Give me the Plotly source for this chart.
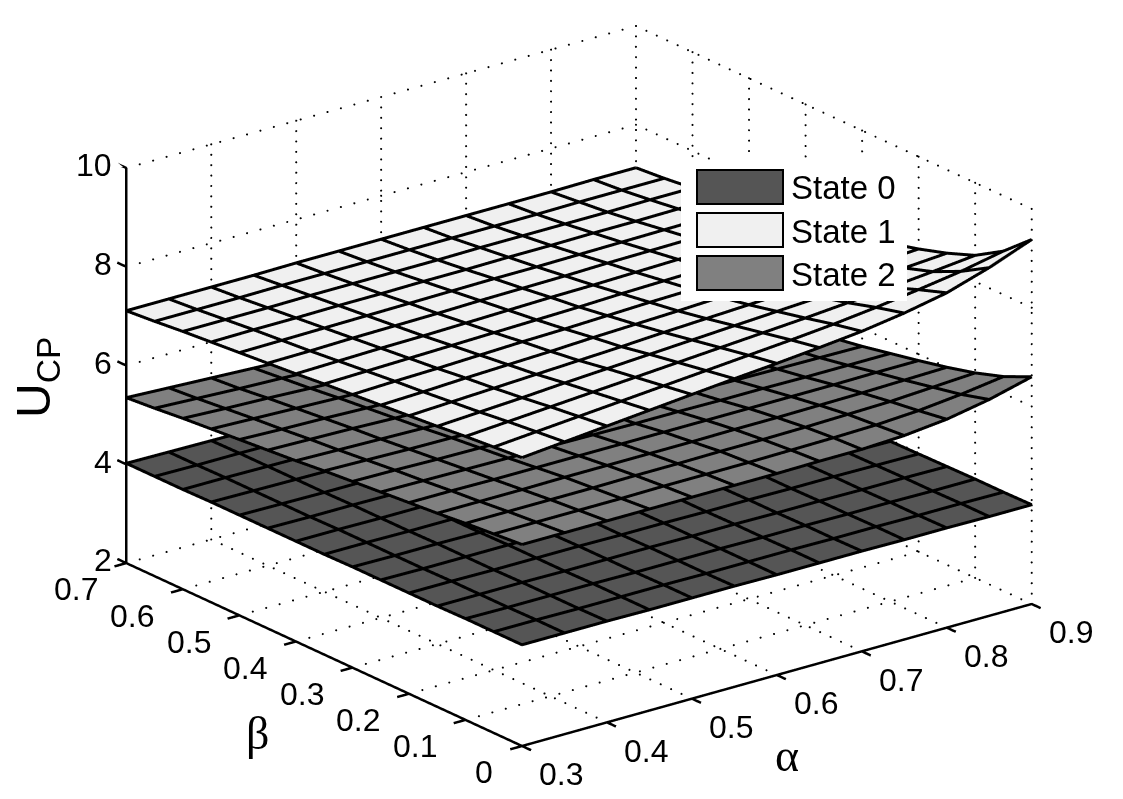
import plotly.graph_objects as go

alpha = [0.30, 0.35, 0.40, 0.45, 0.50, 0.55, 0.60, 0.65, 0.70, 0.75, 0.80, 0.85, 0.90]
beta = [0.00, 0.05, 0.10, 0.15, 0.20, 0.25, 0.30, 0.35, 0.40, 0.45, 0.50, 0.55, 0.60, 0.65, 0.70]

# rows follow beta, columns follow alpha
state_0 = [
    [4.02, 4.02, 4.02, 4.01, 4.01, 4.01, 4.00, 4.00, 4.00, 3.99, 3.99, 3.98, 3.98],
    [4.02, 4.02, 4.01, 4.01, 4.01, 4.00, 4.00, 4.00, 3.99, 3.99, 3.98, 3.98, 3.97],
    [4.02, 4.01, 4.01, 4.01, 4.00, 4.00, 4.00, 3.99, 3.99, 3.98, 3.98, 3.97, 3.97],
    [4.01, 4.01, 4.01, 4.00, 4.00, 4.00, 3.99, 3.99, 3.98, 3.98, 3.97, 3.97, 3.96],
    [4.01, 4.01, 4.00, 4.00, 4.00, 3.99, 3.99, 3.98, 3.98, 3.97, 3.97, 3.96, 3.95],
    [4.01, 4.00, 4.00, 4.00, 3.99, 3.99, 3.98, 3.98, 3.97, 3.97, 3.96, 3.95, 3.94],
    [4.01, 4.00, 4.00, 3.99, 3.99, 3.98, 3.98, 3.97, 3.97, 3.96, 3.95, 3.95, 3.94],
    [4.00, 4.00, 3.99, 3.99, 3.98, 3.98, 3.97, 3.97, 3.96, 3.95, 3.95, 3.94, 3.93],
    [4.00, 4.00, 3.99, 3.99, 3.98, 3.97, 3.97, 3.96, 3.95, 3.95, 3.94, 3.93, 3.92],
    [4.00, 3.99, 3.99, 3.98, 3.98, 3.97, 3.96, 3.95, 3.95, 3.94, 3.93, 3.92, 3.91],
    [4.00, 3.99, 3.98, 3.98, 3.97, 3.96, 3.96, 3.95, 3.94, 3.93, 3.92, 3.91, 3.90],
    [4.00, 3.99, 3.98, 3.97, 3.97, 3.96, 3.95, 3.94, 3.93, 3.92, 3.91, 3.90, 3.89],
    [3.99, 3.99, 3.98, 3.97, 3.96, 3.95, 3.95, 3.94, 3.93, 3.92, 3.91, 3.89, 3.88],
    [3.99, 3.98, 3.98, 3.97, 3.96, 3.95, 3.94, 3.93, 3.92, 3.91, 3.90, 3.88, 3.87],
    [3.99, 3.98, 3.97, 3.96, 3.95, 3.94, 3.93, 3.92, 3.91, 3.90, 3.89, 3.87, 3.86],
]
state_1 = [
    [7.81, 7.89, 7.97, 8.05, 8.13, 8.21, 8.28, 8.36, 8.45, 8.58, 8.75, 9.02, 9.35],
    [7.76, 7.83, 7.90, 7.97, 8.04, 8.11, 8.18, 8.25, 8.33, 8.43, 8.55, 8.68, 8.85],
    [7.71, 7.77, 7.83, 7.89, 7.95, 8.01, 8.07, 8.13, 8.19, 8.26, 8.33, 8.41, 8.50],
    [7.65, 7.70, 7.75, 7.81, 7.86, 7.91, 7.96, 8.01, 8.06, 8.11, 8.17, 8.22, 8.28],
    [7.60, 7.64, 7.68, 7.72, 7.76, 7.80, 7.85, 7.89, 7.93, 7.97, 8.01, 8.05, 8.10],
    [7.55, 7.58, 7.62, 7.65, 7.68, 7.72, 7.75, 7.78, 7.82, 7.85, 7.88, 7.92, 7.95],
    [7.50, 7.53, 7.55, 7.58, 7.61, 7.63, 7.66, 7.69, 7.71, 7.74, 7.77, 7.79, 7.82],
    [7.45, 7.47, 7.49, 7.51, 7.53, 7.55, 7.57, 7.60, 7.62, 7.64, 7.66, 7.68, 7.70],
    [7.39, 7.41, 7.43, 7.44, 7.46, 7.48, 7.50, 7.51, 7.53, 7.55, 7.56, 7.58, 7.60],
    [7.34, 7.35, 7.37, 7.38, 7.39, 7.41, 7.42, 7.43, 7.45, 7.46, 7.47, 7.49, 7.50],
    [7.29, 7.30, 7.31, 7.32, 7.33, 7.34, 7.35, 7.35, 7.36, 7.37, 7.38, 7.39, 7.40],
    [7.24, 7.25, 7.25, 7.26, 7.26, 7.27, 7.27, 7.28, 7.28, 7.29, 7.29, 7.30, 7.30],
    [7.19, 7.19, 7.19, 7.20, 7.20, 7.20, 7.20, 7.21, 7.21, 7.21, 7.21, 7.22, 7.22],
    [7.13, 7.13, 7.13, 7.14, 7.14, 7.14, 7.14, 7.14, 7.14, 7.14, 7.15, 7.15, 7.15],
    [7.08, 7.08, 7.08, 7.08, 7.09, 7.09, 7.09, 7.09, 7.09, 7.09, 7.09, 7.10, 7.10],
]
state_2 = [
    [6.05, 6.05, 6.05, 6.05, 6.05, 6.05, 6.05, 6.06, 6.06, 6.10, 6.19, 6.35, 6.57],
    [6.00, 6.00, 6.00, 6.00, 6.01, 6.01, 6.01, 6.02, 6.03, 6.05, 6.10, 6.19, 6.31],
    [5.95, 5.95, 5.95, 5.95, 5.96, 5.96, 5.97, 5.97, 5.98, 6.00, 6.02, 6.07, 6.12],
    [5.89, 5.89, 5.89, 5.90, 5.90, 5.90, 5.90, 5.91, 5.91, 5.92, 5.93, 5.95, 5.97],
    [5.84, 5.84, 5.83, 5.83, 5.83, 5.83, 5.83, 5.83, 5.83, 5.83, 5.83, 5.84, 5.84],
    [5.79, 5.78, 5.77, 5.76, 5.76, 5.75, 5.74, 5.74, 5.73, 5.73, 5.72, 5.72, 5.72],
    [5.74, 5.73, 5.71, 5.70, 5.69, 5.68, 5.67, 5.65, 5.64, 5.63, 5.62, 5.61, 5.60],
    [5.69, 5.67, 5.65, 5.64, 5.62, 5.61, 5.59, 5.58, 5.56, 5.55, 5.53, 5.52, 5.50],
    [5.63, 5.61, 5.59, 5.57, 5.55, 5.53, 5.52, 5.50, 5.48, 5.46, 5.44, 5.42, 5.40],
    [5.58, 5.56, 5.54, 5.51, 5.49, 5.47, 5.44, 5.42, 5.40, 5.37, 5.35, 5.33, 5.30],
    [5.53, 5.50, 5.48, 5.45, 5.42, 5.40, 5.37, 5.35, 5.32, 5.29, 5.27, 5.24, 5.21],
    [5.48, 5.45, 5.42, 5.39, 5.36, 5.33, 5.30, 5.27, 5.24, 5.21, 5.18, 5.15, 5.12],
    [5.43, 5.39, 5.36, 5.32, 5.29, 5.26, 5.23, 5.19, 5.16, 5.13, 5.09, 5.06, 5.03],
    [5.37, 5.33, 5.29, 5.26, 5.22, 5.18, 5.15, 5.11, 5.08, 5.04, 5.01, 4.97, 4.94],
    [5.32, 5.28, 5.24, 5.20, 5.16, 5.12, 5.08, 5.04, 5.00, 4.96, 4.92, 4.88, 4.85],
]

alpha_ticks = [0.3, 0.4, 0.5, 0.6, 0.7, 0.8, 0.9]
beta_ticks = [0, 0.1, 0.2, 0.3, 0.4, 0.5, 0.6, 0.7]
z_ticks = [2, 4, 6, 8, 10]
legend_names = ["State 0", "State 1", "State 2"]
state_colors = ["#555555", "#f0f0f0", "#808080"]

# the page body has an 8px margin, so the figure starts at (8, 8) in the window
PAGE_W, PAGE_H, OFF = 1123, 799, 8
W, H = PAGE_W - 2 * OFF, PAGE_H - 2 * OFF
DOTS_PER_EDGE = 38
ASPECT = 1.707
WIRE_LIFT = 0.03  # keeps the wire from z-fighting with its own surface
TICK_SIZE = 32
TICK_A, TICK_B = 0.014, 0.016  # outward tick length in data units


def line_trace(xs, ys, zs, width):
    return go.Scatter3d(
        x=xs, y=ys, z=zs,
        mode="lines",
        line=dict(color="black", width=width),
        hoverinfo="skip",
        showlegend=False,
    )


def add_state(fig, values, color):
    fig.add_trace(
        go.Surface(
            x=alpha,
            y=beta,
            z=values,
            surfacecolor=[[0] * len(alpha)] * len(beta),
            colorscale=[[0, color], [1, color]],
            showscale=False,
            hoverinfo="skip",
            lighting=dict(ambient=1, diffuse=0, specular=0, roughness=1, fresnel=0),
        )
    )
    # wireframe: gl surface contours stay 1px wide, lines can be thicker
    xs, ys, zs = [], [], []
    for i, a in enumerate(alpha):
        xs += [a] * len(beta) + [None]
        ys += beta + [None]
        zs += [row[i] + WIRE_LIFT for row in values] + [None]
    for j, b in enumerate(beta):
        xs += alpha + [None]
        ys += [b] * len(alpha) + [None]
        zs += [v + WIRE_LIFT for v in values[j]] + [None]
    fig.add_trace(line_trace(xs, ys, zs, 6))


def add_dotted_grid(fig):
    xs, ys, zs = [], [], []
    a0, a1 = alpha_ticks[0], alpha_ticks[-1]
    b0, b1 = beta_ticks[0], beta_ticks[-1]
    z0, z1 = z_ticks[0], z_ticks[-1]

    def seg(p, q):
        for k in range(1, DOTS_PER_EDGE + 1):
            t = k / DOTS_PER_EDGE
            xs.append(p[0] + (q[0] - p[0]) * t)
            ys.append(p[1] + (q[1] - p[1]) * t)
            zs.append(p[2] + (q[2] - p[2]) * t)

    for a in alpha_ticks:
        seg((a, b0, z0), (a, b1, z0))
        seg((a, b1, z0), (a, b1, z1))
    for b in beta_ticks:
        seg((a0, b, z0), (a1, b, z0))
        seg((a1, b, z0), (a1, b, z1))
    for z in z_ticks:
        seg((a0, b1, z), (a1, b1, z))
        seg((a1, b1, z), (a1, b0, z))

    fig.add_trace(
        go.Scatter3d(
            x=xs, y=ys, z=zs,
            mode="markers",
            marker=dict(color="black", size=1.2),
            hoverinfo="skip",
            showlegend=False,
        )
    )


def add_axes(fig):
    a0, a1 = alpha_ticks[0], alpha_ticks[-1]
    b0, b1 = beta_ticks[0], beta_ticks[-1]
    z0, z1 = z_ticks[0], z_ticks[-1]
    xs = [a0, a1, None, a0, a0, None, a0, a0, None]
    ys = [b0, b0, None, b0, b1, None, b1, b1, None]
    zs = [z0, z0, None, z0, z0, None, z0, z1, None]
    for a in alpha_ticks:
        xs += [a, a, None]
        ys += [b0, b0 - TICK_B, None]
        zs += [z0, z0, None]
    for b in beta_ticks:
        xs += [a0, a0 - TICK_A, None]
        ys += [b, b, None]
        zs += [z0, z0, None]
    for z in z_ticks:
        xs += [a0, a0, None]
        ys += [b1, b1 + TICK_B, None]
        zs += [z, z, None]
    fig.add_trace(line_trace(xs, ys, zs, 5))


def tick_labels():
    # gl tick text cannot be nudged enough, so anchor svg labels to the ticks in scene space
    a0, b0, b1, z0 = alpha_ticks[0], beta_ticks[0], beta_ticks[-1], z_ticks[0]
    font = dict(family="Liberation Sans", size=TICK_SIZE, color="black")
    common = dict(showarrow=False, font=font, yanchor="middle")
    notes = []
    for a in alpha_ticks:
        notes.append(dict(x=a, y=b0, z=z0, text=f"{a:g}", xanchor="center", xshift=39, yshift=-28, **common))
    for b in beta_ticks:
        notes.append(dict(x=a0, y=b, z=z0, text=f"{b:g}", xanchor="right", xshift=-27, yshift=-26, **common))
    for z in z_ticks:
        notes.append(dict(x=a0, y=b1, z=z, text=f"{z:g}", xanchor="right", xshift=-13, yshift=3, **common))
    return notes


fig = go.Figure()
add_dotted_grid(fig)
for vals, col in zip([state_0, state_1, state_2], state_colors):
    add_state(fig, vals, col)
add_axes(fig)

axis_style = dict(
    showgrid=False,
    zeroline=False,
    showbackground=False,
    showspikes=False,
    showline=False,
    showticklabels=False,
    ticks="",
    title="",
)

# scene clips marks to the ranges, so pad them by the tick length and keep the scale
alpha_span = alpha_ticks[-1] - alpha_ticks[0]
beta_span = beta_ticks[-1] - beta_ticks[0]

fig.update_layout(
    width=W,
    height=H,
    margin=dict(l=0, r=0, t=0, b=0),
    paper_bgcolor="white",
    showlegend=False,
    font=dict(family="Liberation Sans", color="black"),
    scene=dict(
        domain=dict(x=[0.032, 1], y=[0.034, 1]),
        xaxis=dict(range=[alpha_ticks[0] - TICK_A, alpha_ticks[-1] + TICK_A], tickvals=alpha_ticks, **axis_style),
        yaxis=dict(range=[beta_ticks[0] - TICK_B, beta_ticks[-1] + TICK_B], tickvals=beta_ticks, **axis_style),
        zaxis=dict(range=[2, 10], tickvals=z_ticks, **axis_style),
        aspectmode="manual",
        aspectratio=dict(
            x=ASPECT * (alpha_span + 2 * TICK_A) / alpha_span,
            y=ASPECT * (beta_span + 2 * TICK_B) / beta_span,
            z=0.656 * ASPECT,
        ),
        camera=dict(
            projection=dict(type="orthographic"),
            eye=dict(x=-0.858, y=-1.105, z=0.538),
            up=dict(x=0, y=0, z=1),
        ),
        annotations=tick_labels(),
    ),
)


def px_box(x0, y0, x1, y1, fill, line_color, line_width):
    # legend rectangles, placed in window pixels so they sit above the gl canvas
    fig.add_annotation(
        xref="paper", yref="paper",
        x=((x0 + x1) / 2 - OFF) / W, y=1 - ((y0 + y1) / 2 - OFF) / H,
        xanchor="center", yanchor="middle",
        width=x1 - x0, height=y1 - y0,
        text=" ", showarrow=False,
        bgcolor=fill, bordercolor=line_color, borderwidth=line_width, borderpad=0,
    )


def px_text(x, y, text, size, family="Liberation Sans", xanchor="left", angle=0):
    fig.add_annotation(
        xref="paper", yref="paper",
        x=(x - OFF) / W, y=1 - (y - OFF) / H,
        xanchor=xanchor, yanchor="middle",
        text=text, showarrow=False, textangle=angle,
        font=dict(family=family, size=size, color="black"),
    )


px_box(681, 160, 907, 301, "white", "white", 0)
for i, (name, col) in enumerate(zip(legend_names, state_colors)):
    top = 171 + i * 43
    px_box(698, top, 782, top + 32, col, "black", 2)
    px_text(789, top + 17, name, 33)

px_text(37, 378, "U<sub>CP</sub>", 48, xanchor="center", angle=-90)
px_text(257, 733, "β", 46, family="Liberation Serif", xanchor="center")
px_text(787, 755, "α", 46, family="Liberation Serif", xanchor="center")

fig.write_html("out.html")
